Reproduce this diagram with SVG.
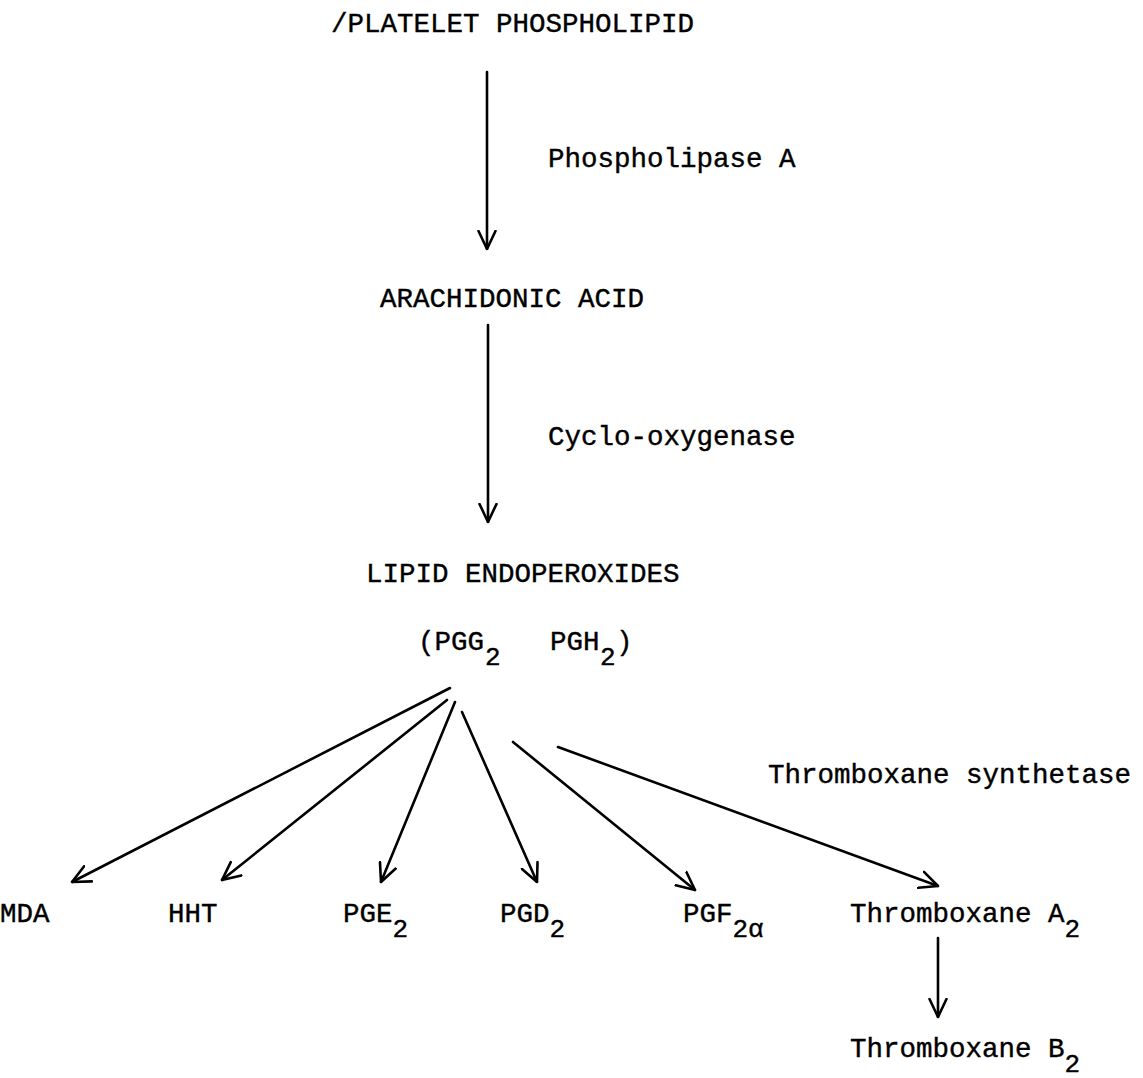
<svg xmlns="http://www.w3.org/2000/svg" width="1143" height="1078" viewBox="0 0 1143 1078">
<style>
text{font-family:"Liberation Mono","Courier New",monospace;font-size:27.5px;fill:#000;stroke:#000;stroke-width:0.4}
.sub{font-size:26px}
.c{fill:none;stroke:#000;stroke-width:2.6;stroke-linecap:round}
</style>
<defs>
<marker id="vb" viewBox="0 0 20 20" refX="19" refY="10" markerWidth="20" markerHeight="20" markerUnits="userSpaceOnUse" orient="auto">
<path d="M1,1.5 L19,10 L1,18.5" fill="none" stroke="#000" stroke-width="2.6" stroke-linecap="round" stroke-linejoin="round"/>
</marker>
</defs>
<rect width="1143" height="1078" fill="#fff"/>
<g id="platelet-phospholipid"><text x="331" y="32">/PLATELET PHOSPHOLIPID</text></g>
<g id="phospholipase-a"><text x="548" y="167">Phospholipase A</text></g>
<g id="arachidonic-acid"><text x="380" y="307">ARACHIDONIC ACID</text></g>
<g id="cyclo-oxygenase"><text x="548" y="445">Cyclo-oxygenase</text></g>
<g id="lipid-endoperoxides"><text x="366" y="582">LIPID ENDOPEROXIDES</text></g>
<g id="pgg2-pgh2"><text x="418" y="650">(PGG<tspan class="sub" x="485" dy="15">2</tspan><tspan x="550" dy="-15">PGH</tspan><tspan class="sub" x="600" dy="15">2</tspan><tspan x="616" dy="-15">)</tspan></text></g>
<g id="thromboxane-synthetase"><text x="768" y="783">Thromboxane synthetase</text></g>
<g id="mda"><text x="0" y="922">MDA</text></g>
<g id="hht"><text x="168" y="922">HHT</text></g>
<g id="pge2"><text x="343" y="922">PGE<tspan class="sub" dy="15">2</tspan></text></g>
<g id="pgd2"><text x="500" y="922">PGD<tspan class="sub" dy="15">2</tspan></text></g>
<g id="pgf2a"><text x="683" y="922">PGF<tspan class="sub" dy="15">2α</tspan></text></g>
<g id="thromboxane-a2"><text x="850" y="922">Thromboxane A<tspan class="sub" dy="15">2</tspan></text></g>
<g id="thromboxane-b2"><text x="850" y="1057">Thromboxane B<tspan class="sub" dy="15">2</tspan></text></g>
<g id="connectors">
<line class="c" x1="487" y1="72" x2="487" y2="249" marker-end="url(#vb)"/>
<line class="c" x1="488" y1="325" x2="488" y2="522" marker-end="url(#vb)"/>
<line class="c" x1="450" y1="688" x2="72" y2="882" marker-end="url(#vb)"/>
<line class="c" x1="447" y1="700" x2="222" y2="880" marker-end="url(#vb)"/>
<line class="c" x1="455" y1="702" x2="381" y2="882" marker-end="url(#vb)"/>
<line class="c" x1="462" y1="712" x2="537" y2="882" marker-end="url(#vb)"/>
<line class="c" x1="513" y1="742" x2="695" y2="890" marker-end="url(#vb)"/>
<line class="c" x1="558" y1="747" x2="938" y2="886" marker-end="url(#vb)"/>
<line class="c" x1="938" y1="938" x2="938" y2="1017" marker-end="url(#vb)"/>
</g>
</svg>
